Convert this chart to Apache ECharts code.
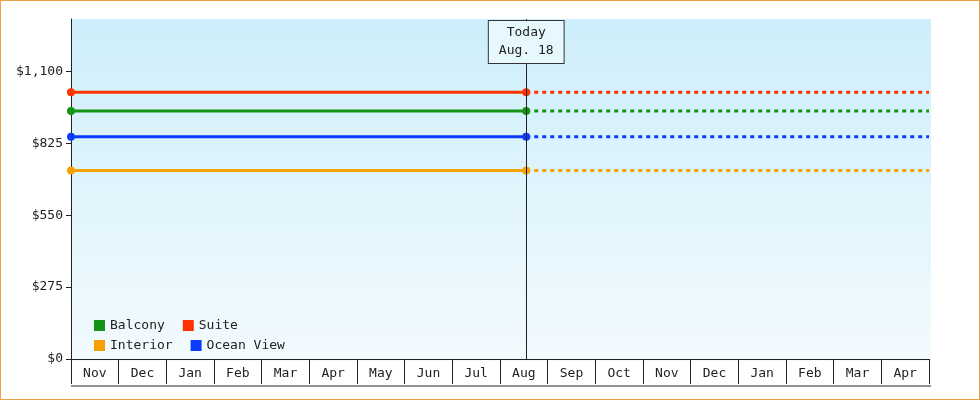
<!DOCTYPE html>
<html><head><meta charset="utf-8">
<script src="https://cdn.jsdelivr.net/npm/echarts@6/dist/echarts.min.js"></script>
<style>html,body{margin:0;padding:0}#c{width:980px;height:400px;box-sizing:border-box;border:1px solid #f0a040;background:#fff}</style>
</head><body><div id="c"></div>
<script>
var months=['Nov','Dec','Jan','Feb','Mar','Apr','May','Jun','Jul','Aug','Sep','Oct','Nov','Dec','Jan','Feb','Mar','Apr'];
var yTicks=[0,275,550,825,1100];
var names=['Balcony','Suite','Interior','Ocean View'];
var colors=['#149414','#ff3300','#f5a000','#0a3cff'];
var prices=[948,1020,721,850];
var startX=0, todayX=9.55, endX=18;
var font='DejaVu Sans Mono';
var chart=echarts.init(document.getElementById('c'));
var series=[];
names.forEach(function(n,i){
  series.push({name:n,type:'line',xAxisIndex:1,color:colors[i],data:[[startX,prices[i]],[todayX,prices[i]]],symbol:'circle',symbolSize:8,lineStyle:{width:3},z:3,
    markLine:i===0?{symbol:'none',silent:true,lineStyle:{color:'#222',type:'solid',width:1},
      label:{position:'end',formatter:'Today\nAug. 18',fontFamily:font,fontSize:13,color:'#222',backgroundColor:'#e6f7fd',borderColor:'#333',borderWidth:1,padding:[3,10],lineHeight:18,distance:-44},
      data:[[{coord:[todayX,0]},{coord:[todayX,1300]}]]}:undefined});
  series.push({name:n+' est',type:'line',xAxisIndex:1,color:colors[i],data:[[todayX,prices[i]],[endX,prices[i]]],showSymbol:false,lineStyle:{width:3,type:[4,4]},z:2});
});
var lg={left:88,icon:'rect',itemWidth:11,itemHeight:11,itemGap:18,textStyle:{fontFamily:font,fontSize:13,color:'#222'}};
chart.setOption({
  textStyle:{fontFamily:font},
  grid:{left:70,right:50,top:18,bottom:40},
  graphic:[{type:'rect',shape:{x:70,y:18,width:860,height:342},z:-10,style:{fill:new echarts.graphic.LinearGradient(0,0,0,1,[{offset:0,color:'#cdeefb'},{offset:1,color:'#f3fbfe'}])}},
    {type:'line',shape:{x1:70,y1:385,x2:930,y2:385},style:{stroke:'#222',lineWidth:1}}],
  legend:[Object.assign({data:names.slice(0,2),top:313},lg),Object.assign({data:names.slice(2),top:333},lg)],
  xAxis:[{type:'category',data:months,boundaryGap:true,axisLine:{lineStyle:{color:'#222'}},axisTick:{show:true,interval:0,length:25,lineStyle:{color:'#222'}},axisLabel:{interval:0,color:'#222',fontSize:13,margin:8}},
    {type:'value',min:0,max:18,show:false,position:'bottom'}],
  yAxis:{type:'value',min:0,max:1300,interval:275,splitLine:{show:false},axisLine:{show:true,lineStyle:{color:'#222'}},
    axisTick:{show:true,customValues:yTicks,lineStyle:{color:'#222'}},
    axisLabel:{color:'#222',fontSize:13,customValues:yTicks,formatter:function(v){return '$'+v.toLocaleString('en-US');}}},
  series:series
});
</script></body></html>
